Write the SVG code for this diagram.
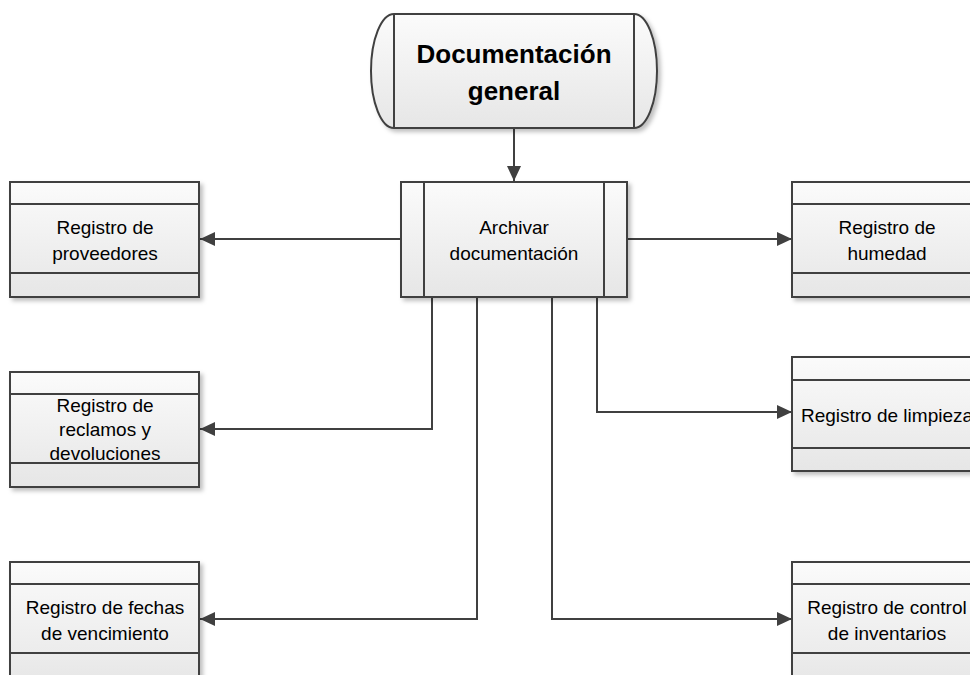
<svg xmlns="http://www.w3.org/2000/svg" width="970" height="675" viewBox="0 0 970 675">
  <defs>
    <linearGradient id="boxFill" x1="0" y1="0" x2="0" y2="1">
      <stop offset="0" stop-color="#fbfbfb"/>
      <stop offset="1" stop-color="#e6e6e6"/>
    </linearGradient>
    <filter id="shadow" x="-10%" y="-10%" width="130%" height="130%">
      <feDropShadow dx="3" dy="3" stdDeviation="2" flood-color="#000" flood-opacity="0.25"/>
    </filter>
    <marker id="arrow" markerUnits="userSpaceOnUse" markerWidth="16" markerHeight="14" refX="15" refY="7" orient="auto">
      <path d="M0,0 L15,7 L0,14 z" fill="#404040"/>
    </marker>
  </defs>
  <style>
    .shape { fill: url(#boxFill); stroke: #404040; stroke-width: 2; filter: url(#shadow); }
    .line { fill: none; stroke: #404040; stroke-width: 2; }
    .lbl { font-family: "Liberation Sans", Arial, sans-serif; font-size: 19px; fill: #000; text-anchor: middle; }
    .title { font-family: "Liberation Sans", Arial, sans-serif; font-size: 26px; font-weight: bold; fill: #000; text-anchor: middle; }
    .conn { fill: none; stroke: #404040; stroke-width: 2; marker-end: url(#arrow); }
  </style>

  <!-- Connectors -->
  <g id="connectors">
    <path class="conn" d="M514,129 L514,181"/>
    <path class="conn" d="M401,239 L200,239"/>
    <path class="conn" d="M627,239 L792,239"/>
    <path class="conn" d="M432,297 L432,429 L200,429"/>
    <path class="conn" d="M477,297 L477,619 L200,619"/>
    <path class="conn" d="M552,297 L552,619 L792,619"/>
    <path class="conn" d="M597,297 L597,412 L792,412"/>
  </g>

  <!-- Terminator: Documentación general -->
  <g id="doc-general">
    <path class="shape" d="M394,14 L634,14 A23,57 0 0 1 634,128 L394,128 A23,57 0 0 1 394,14 Z"/>
    <line class="line" x1="394" y1="14" x2="394" y2="128"/>
    <line class="line" x1="634" y1="14" x2="634" y2="128"/>
    <text class="title" x="514" y="63">Documentación</text>
    <text class="title" x="514" y="100">general</text>
  </g>

  <!-- Predefined process: Archivar documentación -->
  <g id="archivar">
    <rect class="shape" x="401" y="182" width="226" height="115"/>
    <line class="line" x1="424" y1="182" x2="424" y2="297"/>
    <line class="line" x1="604" y1="182" x2="604" y2="297"/>
    <text class="lbl" x="514" y="234">Archivar</text>
    <text class="lbl" x="514" y="260">documentación</text>
  </g>

  <!-- Left column -->
  <g id="proveedores">
    <rect class="shape" x="10" y="182" width="189" height="115"/>
    <line class="line" x1="10" y1="204" x2="199" y2="204"/>
    <line class="line" x1="10" y1="273" x2="199" y2="273"/>
    <text class="lbl" x="105" y="234">Registro de</text>
    <text class="lbl" x="105" y="260">proveedores</text>
  </g>

  <g id="reclamos">
    <rect class="shape" x="10" y="372" width="189" height="115"/>
    <line class="line" x1="10" y1="394" x2="199" y2="394"/>
    <line class="line" x1="10" y1="463" x2="199" y2="463"/>
    <text class="lbl" x="105" y="412">Registro de</text>
    <text class="lbl" x="105" y="436">reclamos y</text>
    <text class="lbl" x="105" y="460">devoluciones</text>
  </g>

  <g id="vencimiento">
    <rect class="shape" x="10" y="562" width="189" height="125"/>
    <line class="line" x1="10" y1="584" x2="199" y2="584"/>
    <line class="line" x1="10" y1="653" x2="199" y2="653"/>
    <text class="lbl" x="105" y="614">Registro de fechas</text>
    <text class="lbl" x="105" y="640">de vencimiento</text>
  </g>

  <!-- Right column -->
  <g id="humedad">
    <rect class="shape" x="792" y="182" width="189" height="115"/>
    <line class="line" x1="792" y1="204" x2="981" y2="204"/>
    <line class="line" x1="792" y1="273" x2="981" y2="273"/>
    <text class="lbl" x="887" y="234">Registro de</text>
    <text class="lbl" x="887" y="260">humedad</text>
  </g>

  <g id="limpieza">
    <rect class="shape" x="792" y="357" width="189" height="114"/>
    <line class="line" x1="792" y1="380" x2="981" y2="380"/>
    <line class="line" x1="792" y1="448" x2="981" y2="448"/>
    <text class="lbl" x="887" y="422">Registro de limpieza</text>
  </g>

  <g id="inventarios">
    <rect class="shape" x="792" y="562" width="189" height="125"/>
    <line class="line" x1="792" y1="584" x2="981" y2="584"/>
    <line class="line" x1="792" y1="653" x2="981" y2="653"/>
    <text class="lbl" x="887" y="614">Registro de control</text>
    <text class="lbl" x="887" y="640">de inventarios</text>
  </g>
</svg>
